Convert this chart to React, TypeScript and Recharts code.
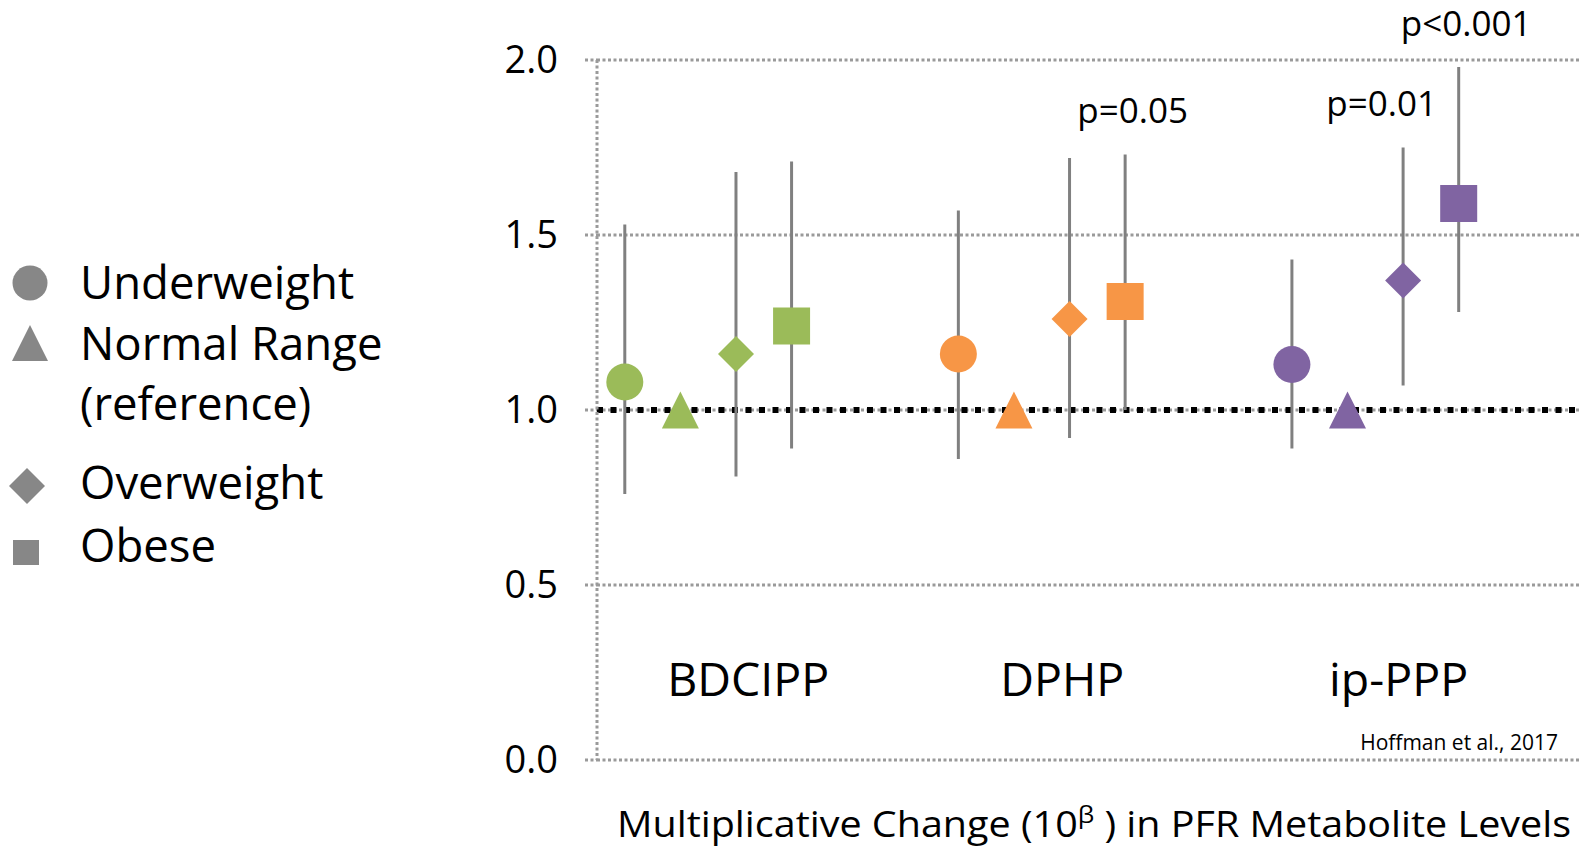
import { ScatterChart, Scatter, XAxis, YAxis, CartesianGrid, ReferenceLine, ErrorBar, LabelList } from "recharts";

const FONT = "'Open Sans', sans-serif";

// metabolites (x groups) and their colours
const metabolites = ["BDCIPP", "DPHP", "ip-PPP"];
const metaboliteColors = ["#9BBB59", "#F79646", "#8064A2"];
const categoryLabelX = [2.3, 7.95, 14.0];

// BMI groups, 10^beta with 95% CI
const underweight = [1.08, 1.16, 1.13];
const underweightLow = [0.76, 0.86, 0.89];
const underweightHigh = [1.53, 1.57, 1.43];
const normalRange = [1.0, 1.0, 1.0];
const overweight = [1.16, 1.26, 1.37];
const overweightLow = [0.81, 0.92, 1.07];
const overweightHigh = [1.68, 1.72, 1.75];
const obese = [1.24, 1.31, 1.59];
const obeseLow = [0.89, 1.0, 1.28];
const obeseHigh = [1.71, 1.73, 1.98];
const overweightP = ["", "", "p=0.01"];
const obeseP = ["", "p=0.05", "p<0.001"];

const yTicks = [0, 0.5, 1, 1.5, 2];

const SLOTS_PER_GROUP = 6;

const makeRows = (vals: number[], slot: number, low?: number[], high?: number[]) =>
  vals.map((v, g) => ({
    x: g * SLOTS_PER_GROUP + slot,
    y: v,
    group: g,
    err: low && high ? [v - low[g], high[g] - v] : [0, 0],
  }));

const makePRows = (labels: string[], high: number[], slot: number) =>
  labels
    .map((label, g) => ({ x: g * SLOTS_PER_GROUP + slot, y: high[g], label }))
    .filter((r) => r.label !== "");

const categoryRows = metabolites.map((name, g) => ({ x: categoryLabelX[g], y: 0.17, name }));

const R = 18.5;

const marker = (kind: string) => (props: any) => {
  const { cx, cy, payload } = props;
  const fill = metaboliteColors[payload.group];
  if (kind === "circle") return <circle cx={cx} cy={cy} r={R} fill={fill} />;
  if (kind === "triangle")
    return <polygon points={`${cx},${cy - R} ${cx + R},${cy + R} ${cx - R},${cy + R}`} fill={fill} />;
  if (kind === "diamond")
    return <polygon points={`${cx},${cy - 18} ${cx + 18},${cy} ${cx},${cy + 18} ${cx - 18},${cy}`} fill={fill} />;
  return <rect x={cx - R} y={cy - R} width={2 * R} height={2 * R} fill={fill} />;
};

const noShape = () => <g />;

const pLabel = (dx: number) => (props: any) => {
  const { x, y, value } = props;
  return (
    <text x={x + dx} y={y - 27} textAnchor="middle" fontSize={35} fontFamily={FONT} fill="#000">
      {value}
    </text>
  );
};

const categoryLabel = (props: any) => {
  const { x, y, value } = props;
  return (
    <text x={x} y={y} textAnchor="middle" fontSize={46.5} fontFamily={FONT} fill="#000">
      {value}
    </text>
  );
};

const GRID = "#9a9a9a";
const DOTS = "3 2.5";
const BAR = "#808080";
const LEGEND_GRAY = "#878787";

const Legend = () => (
  <svg width={420} height={849} style={{ position: "absolute", left: 0, top: 0 }}>
    <g fill={LEGEND_GRAY}>
      <circle cx={30} cy={283} r={17.5} />
      <polygon points="30,325 48,361 12,361" />
      <polygon points="27,468 45,486 27,504 9,486" />
      <rect x={13} y={540} width={26} height={25} />
    </g>
    <g fontFamily={FONT} fontSize={45.5} fill="#000">
      <text x={80} y={299}>Underweight</text>
      <text x={80} y={360}>Normal Range</text>
      <text x={80} y={420}>(reference)</text>
      <text x={80} y={499}>Overweight</text>
      <text x={80} y={562}>Obese</text>
    </g>
  </svg>
);

const Notes = () => (
  <svg width={1581} height={849} style={{ position: "absolute", left: 0, top: 0, pointerEvents: "none" }}>
    <text x={1558} y={750} textAnchor="end" fontSize={21} fontFamily={FONT} fill="#000">
      Hoffman et al., 2017
    </text>
    <text
      x={617}
      y={837}
      fontSize={36}
      fontFamily={FONT}
      fill="#000"
      textLength={954}
      lengthAdjust="spacingAndGlyphs"
    >
      Multiplicative Change (10
      <tspan fontSize={24} dy={-14}>β</tspan>
      <tspan dy={14}> ) in PFR Metabolite Levels</tspan>
    </text>
  </svg>
);

const App = () => {
  return (
    <div style={{ position: "absolute", left: 0, top: 0, width: 1581, height: 849, background: "#fff" }}>
      <ScatterChart width={1581} height={849} margin={{ top: 60, right: 0, bottom: 89, left: 0 }}>
        <CartesianGrid vertical={false} stroke={GRID} strokeDasharray={DOTS} strokeWidth={3} />
        <XAxis type="number" dataKey="x" domain={[-0.5, 17.2]} hide />
        <YAxis
          type="number"
          dataKey="y"
          domain={[0, 2]}
          ticks={yTicks}
          width={597}
          tickSize={12}
          tickMargin={27}
          axisLine={{ stroke: GRID, strokeDasharray: DOTS, strokeWidth: 3 }}
          tickLine={{ stroke: GRID, strokeDasharray: DOTS, strokeWidth: 3 }}
          tick={{ fill: "#000", fontSize: 38, fontFamily: FONT }}
          tickFormatter={(v: number) => v.toFixed(1)}
        />
        <ReferenceLine y={1} stroke="#000" strokeWidth={6} strokeDasharray="6 7.5" />
        <Scatter data={makeRows(underweight, 0, underweightLow, underweightHigh)} shape={marker("circle")} isAnimationActive={false}>
          <ErrorBar dataKey="err" direction="y" width={0} stroke={BAR} strokeWidth={3} />
        </Scatter>
        <Scatter data={makeRows(normalRange, 1)} shape={marker("triangle")} isAnimationActive={false} />
        <Scatter data={makeRows(overweight, 2, overweightLow, overweightHigh)} shape={marker("diamond")} isAnimationActive={false}>
          <ErrorBar dataKey="err" direction="y" width={0} stroke={BAR} strokeWidth={3} />
        </Scatter>
        <Scatter data={makeRows(obese, 3, obeseLow, obeseHigh)} shape={marker("square")} isAnimationActive={false}>
          <ErrorBar dataKey="err" direction="y" width={0} stroke={BAR} strokeWidth={3} />
        </Scatter>
        <Scatter data={makePRows(overweightP, overweightHigh, 2)} shape={noShape} isAnimationActive={false}>
          <LabelList dataKey="label" content={pLabel(-17)} />
        </Scatter>
        <Scatter data={makePRows(obeseP, obeseHigh, 3)} shape={noShape} isAnimationActive={false}>
          <LabelList dataKey="label" content={pLabel(12)} />
        </Scatter>
        <Scatter data={categoryRows} shape={noShape} isAnimationActive={false}>
          <LabelList dataKey="name" content={categoryLabel} />
        </Scatter>
      </ScatterChart>
      <Legend />
      <Notes />
    </div>
  );
};

export default App;
